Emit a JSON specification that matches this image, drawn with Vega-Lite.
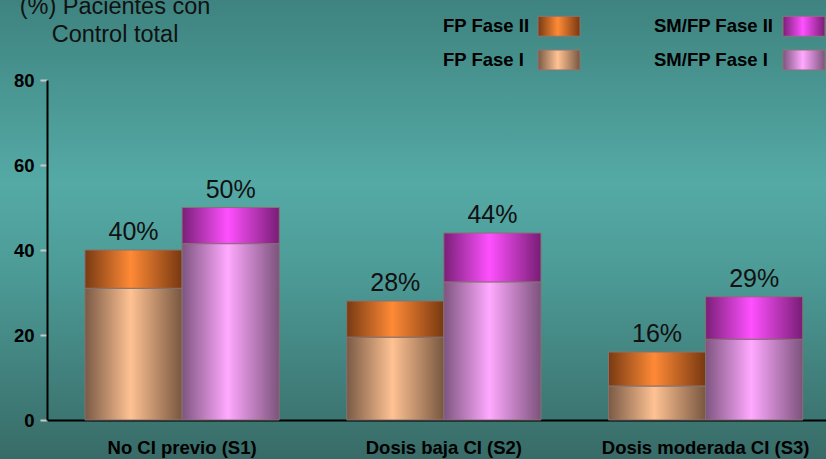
{
  "$schema": "https://vega.github.io/schema/vega-lite/v6.json",
  "width": 826,
  "height": 459,
  "autosize": {"type": "none"},
  "padding": 0,
  "background": "#4a9692",
  "datasets": {
    "barras": [
      {"grupo": "No CI previo (S1)", "tratamiento": "FP", "serie": "FP Fase I", "orden": 1, "valor": 31},
      {"grupo": "No CI previo (S1)", "tratamiento": "FP", "serie": "FP Fase II", "orden": 2, "valor": 9},
      {"grupo": "No CI previo (S1)", "tratamiento": "SM/FP", "serie": "SM/FP Fase I", "orden": 1, "valor": 41.5},
      {"grupo": "No CI previo (S1)", "tratamiento": "SM/FP", "serie": "SM/FP Fase II", "orden": 2, "valor": 8.5},
      {"grupo": "Dosis baja CI (S2)", "tratamiento": "FP", "serie": "FP Fase I", "orden": 1, "valor": 19.5},
      {"grupo": "Dosis baja CI (S2)", "tratamiento": "FP", "serie": "FP Fase II", "orden": 2, "valor": 8.5},
      {"grupo": "Dosis baja CI (S2)", "tratamiento": "SM/FP", "serie": "SM/FP Fase I", "orden": 1, "valor": 32.5},
      {"grupo": "Dosis baja CI (S2)", "tratamiento": "SM/FP", "serie": "SM/FP Fase II", "orden": 2, "valor": 11.5},
      {"grupo": "Dosis moderada CI (S3)", "tratamiento": "FP", "serie": "FP Fase I", "orden": 1, "valor": 8},
      {"grupo": "Dosis moderada CI (S3)", "tratamiento": "FP", "serie": "FP Fase II", "orden": 2, "valor": 8},
      {"grupo": "Dosis moderada CI (S3)", "tratamiento": "SM/FP", "serie": "SM/FP Fase I", "orden": 1, "valor": 19},
      {"grupo": "Dosis moderada CI (S3)", "tratamiento": "SM/FP", "serie": "SM/FP Fase II", "orden": 2, "valor": 10}
    ],
    "totales": [
      {"grupo": "No CI previo (S1)", "tratamiento": "FP", "total": 40, "etiqueta": "40%"},
      {"grupo": "No CI previo (S1)", "tratamiento": "SM/FP", "total": 50, "etiqueta": "50%"},
      {"grupo": "Dosis baja CI (S2)", "tratamiento": "FP", "total": 28, "etiqueta": "28%"},
      {"grupo": "Dosis baja CI (S2)", "tratamiento": "SM/FP", "total": 44, "etiqueta": "44%"},
      {"grupo": "Dosis moderada CI (S3)", "tratamiento": "FP", "total": 16, "etiqueta": "16%"},
      {"grupo": "Dosis moderada CI (S3)", "tratamiento": "SM/FP", "total": 29, "etiqueta": "29%"}
    ]
  },
  "title": {
    "text": ["(%) Pacientes con", "Control total"],
    "anchor": "start",
    "frame": "group",
    "align": "center",
    "baseline": "bottom",
    "dx": 115,
    "dy": 70,
    "offset": 0,
    "lineHeight": 28,
    "font": "Liberation Sans",
    "fontSize": 23.5,
    "fontWeight": "normal",
    "color": "#111111"
  },
  "encoding": {
    "x": {
      "field": "grupo",
      "type": "nominal",
      "sort": ["No CI previo (S1)", "Dosis baja CI (S2)", "Dosis moderada CI (S3)"],
      "scale": {"range": [47, 826], "paddingInner": 0.258, "paddingOuter": 0.117, "align": 0.62},
      "axis": {
        "title": null,
        "offset": -39,
        "labelAngle": 0,
        "labelFont": "Liberation Sans",
        "labelFontSize": 18.5,
        "labelFontWeight": "bold",
        "labelColor": "#000000",
        "labelBaseline": "alphabetic",
        "labelPadding": 33,
        "labelLimit": 400,
        "ticks": false,
        "tickSize": 0,
        "domainColor": "#000000",
        "domainWidth": 2,
        "grid": false
      }
    },
    "xOffset": {
      "field": "tratamiento",
      "type": "nominal",
      "sort": ["FP", "SM/FP"],
      "scale": {"paddingInner": 0, "paddingOuter": 0}
    }
  },
  "layer": [
    {
      "data": {"name": "barras"},
      "mark": {"type": "bar", "stroke": "#857272", "strokeWidth": 1},
      "encoding": {
        "y": {
          "field": "valor",
          "type": "quantitative",
          "stack": "zero",
          "scale": {"domain": [0, 80], "range": [420, 80], "nice": false, "zero": true},
          "axis": {
            "title": null,
            "offset": -47,
            "values": [0, 20, 40, 60, 80],
            "labelFont": "Liberation Sans",
            "labelFontSize": 18.5,
            "labelFontWeight": "bold",
            "labelColor": "#000000",
            "labelPadding": 6,
            "tickColor": "#c8c8c8",
            "tickSize": 7,
            "tickWidth": 2,
            "domainColor": "#000000",
            "domainWidth": 2,
            "grid": false
          }
        },
        "order": {"field": "orden", "type": "quantitative", "sort": "ascending"},
        "color": {
          "field": "serie",
          "type": "nominal",
          "scale": {
            "domain": ["FP Fase II", "FP Fase I", "SM/FP Fase II", "SM/FP Fase I"],
            "range": [
              {"expr": "{gradient: 'linear', x1: 0, y1: 0, x2: 1, y2: 0, stops: [{offset: 0, color: '#783a12'}, {offset: 0.47, color: '#ff8a36'}, {offset: 1, color: '#773810'}]}"},
              {"expr": "{gradient: 'linear', x1: 0, y1: 0, x2: 1, y2: 0, stops: [{offset: 0, color: '#7a5a45'}, {offset: 0.47, color: '#ffc293'}, {offset: 1, color: '#785740'}]}"},
              {"expr": "{gradient: 'linear', x1: 0, y1: 0, x2: 1, y2: 0, stops: [{offset: 0, color: '#7a1f78'}, {offset: 0.47, color: '#ff50ff'}, {offset: 1, color: '#781d75'}]}"},
              {"expr": "{gradient: 'linear', x1: 0, y1: 0, x2: 1, y2: 0, stops: [{offset: 0, color: '#7e5580'}, {offset: 0.47, color: '#ffa9ff'}, {offset: 1, color: '#7c537c'}]}"}
            ]
          },
          "legend": {
            "orient": "none",
            "legendX": 443,
            "legendY": 4.5,
            "columns": 2,
            "title": null,
            "padding": 0,
            "symbolType": "M-1,-0.476H1V0.476H-1Z",
            "symbolSize": 1764,
            "symbolStrokeColor": "#8a7676",
            "symbolStrokeWidth": 1,
            "symbolOpacity": 1,
            "labelFont": "Liberation Sans",
            "labelFontSize": 18.5,
            "labelFontWeight": "bold",
            "labelColor": "#000000",
            "labelLimit": 300,
            "columnPadding": 72,
            "rowPadding": -4.5,
            "encode": {
              "symbols": {"update": {"x": {"signal": "indexof(datum.value, 'SM') >= 0 ? 150 : 116"}}},
              "labels": {"update": {"x": {"value": 0}}}
            }
          }
        }
      }
    },
    {
      "data": {"name": "totales"},
      "mark": {"type": "text", "font": "Liberation Sans", "fontSize": 25, "color": "#111111", "baseline": "alphabetic", "dy": -10},
      "encoding": {
        "y": {"field": "total", "type": "quantitative"},
        "text": {"field": "etiqueta", "type": "nominal"}
      }
    }
  ],
  "config": {
    "view": {
      "stroke": null,
      "fill": {"gradient": "linear", "x1": 0, "y1": 0, "x2": 0, "y2": 1, "stops": [
        {"offset": 0, "color": "#3e837f"},
        {"offset": 0.4, "color": "#55aaa6"},
        {"offset": 0.6, "color": "#4c9a96"},
        {"offset": 1, "color": "#386b67"}
      ]}
    }
  }
}
